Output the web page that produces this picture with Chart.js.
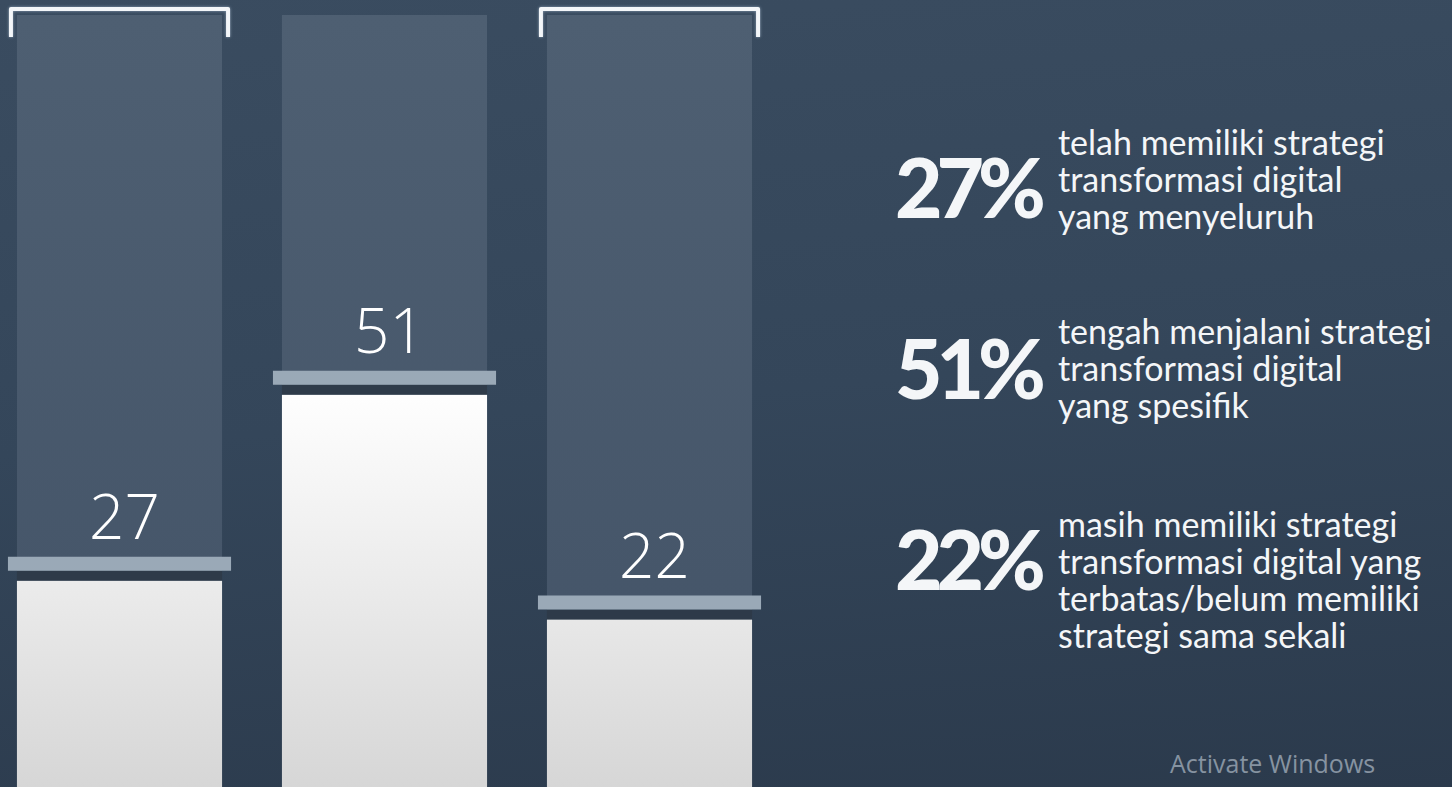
<!DOCTYPE html>
<html>
<head>
<meta charset="utf-8">
<script src="https://cdn.jsdelivr.net/npm/chart.js@4"></script>
<style>
    html, body {
        margin: 0;
        width: 1452px;
        height: 787px;
        overflow: hidden;
        background: linear-gradient(175deg, #3a4c60 0%, #34465a 50%, #2b3a4c 100%);
        font-family: Lato, "Open Sans", sans-serif;
    }
    #barsWrap {
        position: absolute;
        left: -13px;
        top: 0;
        width: 795px;
        height: 800px;
    }
    .item {
        position: absolute;
        left: 895px;
        display: flex;
        align-items: flex-start;
        color: #f4f6f8;
    }
    .item:nth-child(1) { top: 123px; }
    .item:nth-child(2) { top: 312px; }
    .item:nth-child(3) { top: 505px; }
    .pct {
        width: 163px;
        flex: none;
        margin-top: 12px;
        font-weight: 900;
        font-size: 82px;
        line-height: 82px;
        letter-spacing: -6px;
    }
    .item:nth-child(1) .pct { margin-top: 22px; }
    .item:nth-child(2) .pct { margin-top: 14px; }
    .desc {
        font-size: 34px;
        line-height: 37px;
        white-space: nowrap;
    }
    #watermark {
        position: absolute;
        left: 1170px;
        top: 746px;
        font-family: "Open Sans", sans-serif;
        font-size: 25px;
        color: #8693a1;
    }
</style>
</head>
<body>
<div id="barsWrap"><canvas id="barChart"></canvas></div>
<div id="legend"></div>
<div id="watermark">Activate Windows</div>

<script>
/* ===============================
   Data
   =============================== */
const categories = ["Menyeluruh", "Spesifik", "Terbatas"];
const values = [27, 51, 22];
const trackValues = [100, 100, 100];
const bracketed = [true, false, true];
const percentLabels = ["27%", "51%", "22%"];
const descriptions = [
    ["telah memiliki strategi", "transformasi digital", "yang menyeluruh"],
    ["tengah menjalani strategi", "transformasi digital", "yang spesifik"],
    ["masih memiliki strategi", "transformasi digital yang", "terbatas/belum memiliki", "strategi sama sekali"]
];


/* ===============================
   Right-hand legend (real text)
   =============================== */
const legend = document.getElementById("legend");
percentLabels.forEach((label, i) => {
    const item = document.createElement("div");
    item.className = "item";

    const pct = document.createElement("div");
    pct.className = "pct";
    pct.textContent = label;

    const desc = document.createElement("div");
    desc.className = "desc";
    desc.innerHTML = descriptions[i].join("<br>");

    item.appendChild(pct);
    item.appendChild(desc);
    legend.appendChild(item);
});


/* ===============================
   Plugin: caps, labels and brackets on bars
   =============================== */
const decorPlugin = {
    id: "decor",
    afterDatasetsDraw(chart) {
        const ctx = chart.ctx;
        const meta = chart.getDatasetMeta(0);
        const trackMeta = chart.getDatasetMeta(1);
        const area = chart.chartArea;

        ctx.save();
        meta.data.forEach((bar, i) => {
            const half = bar.width / 2;
            const top = bar.y;

            // dark band right above the white bar
            ctx.fillStyle = "rgba(30, 40, 52, 0.6)";
            ctx.fillRect(bar.x - half, top - 10, bar.width, 10);

            // gray cap line
            ctx.fillStyle = "#9aa9b7";
            ctx.fillRect(bar.x - half - 9, top - 24, bar.width + 18, 14);

            // value label
            ctx.fillStyle = "#ffffff";
            ctx.font = "300 62px 'Open Sans'";
            ctx.textAlign = "center";
            ctx.textBaseline = "alphabetic";
            ctx.fillText(String(values[i]), bar.x + 5, top - 42);

            // white bracket over selected tracks
            if (bracketed[i]) {
                const t = trackMeta.data[i];
                const l = t.x - t.width / 2 - 6;
                const r = t.x + t.width / 2 + 6;
                ctx.strokeStyle = "#f3f6f9";
                ctx.lineWidth = 4;
                ctx.lineJoin = "round";
                ctx.shadowColor = "rgba(200, 220, 240, 0.6)";
                ctx.shadowBlur = 3;
                ctx.beginPath();
                ctx.moveTo(l, area.top + 22);
                ctx.lineTo(l, area.top - 6);
                ctx.lineTo(r, area.top - 6);
                ctx.lineTo(r, area.top + 22);
                ctx.stroke();
                ctx.shadowBlur = 0;
            }
        });
        ctx.restore();
    }
};


/* ===============================
   Bar chart
   =============================== */
function whiteGradient(context) {
    const { chart } = context;
    const area = chart.chartArea;
    if (!area) return "#ffffff";
    const g = chart.ctx.createLinearGradient(0, area.top, 0, area.bottom);
    g.addColorStop(0, "#ffffff");
    g.addColorStop(0.48, "#ffffff");
    g.addColorStop(1, "#d6d6d6");
    return g;
}

function trackGradient(context) {
    const { chart } = context;
    const area = chart.chartArea;
    if (!area) return "#4a5b6d";
    const g = chart.ctx.createLinearGradient(0, area.top, 0, area.bottom);
    g.addColorStop(0, "#4e5f72");
    g.addColorStop(1, "#435367");
    return g;
}

new Chart(document.getElementById("barChart"), {
    type: "bar",
    data: {
        labels: categories,
        datasets: [
            {
                label: "Persen",
                data: values,
                backgroundColor: whiteGradient,
                borderWidth: 0,
                grouped: false,
                barPercentage: 0.774,
                categoryPercentage: 1
            },
            {
                label: "Track",
                data: trackValues,
                backgroundColor: trackGradient,
                borderWidth: 0,
                grouped: false,
                barPercentage: 0.774,
                categoryPercentage: 1
            }
        ]
    },
    options: {
        responsive: true,
        maintainAspectRatio: false,
        animation: false,
        layout: { padding: { top: 15, bottom: 10, left: 0, right: 0 } },
        plugins: {
            legend: { display: false },
            tooltip: { enabled: false }
        },
        scales: {
            x: { display: false },
            y: { display: false, min: 0, max: 100 }
        }
    },
    plugins: [decorPlugin]
});
</script>
</body>
</html>
